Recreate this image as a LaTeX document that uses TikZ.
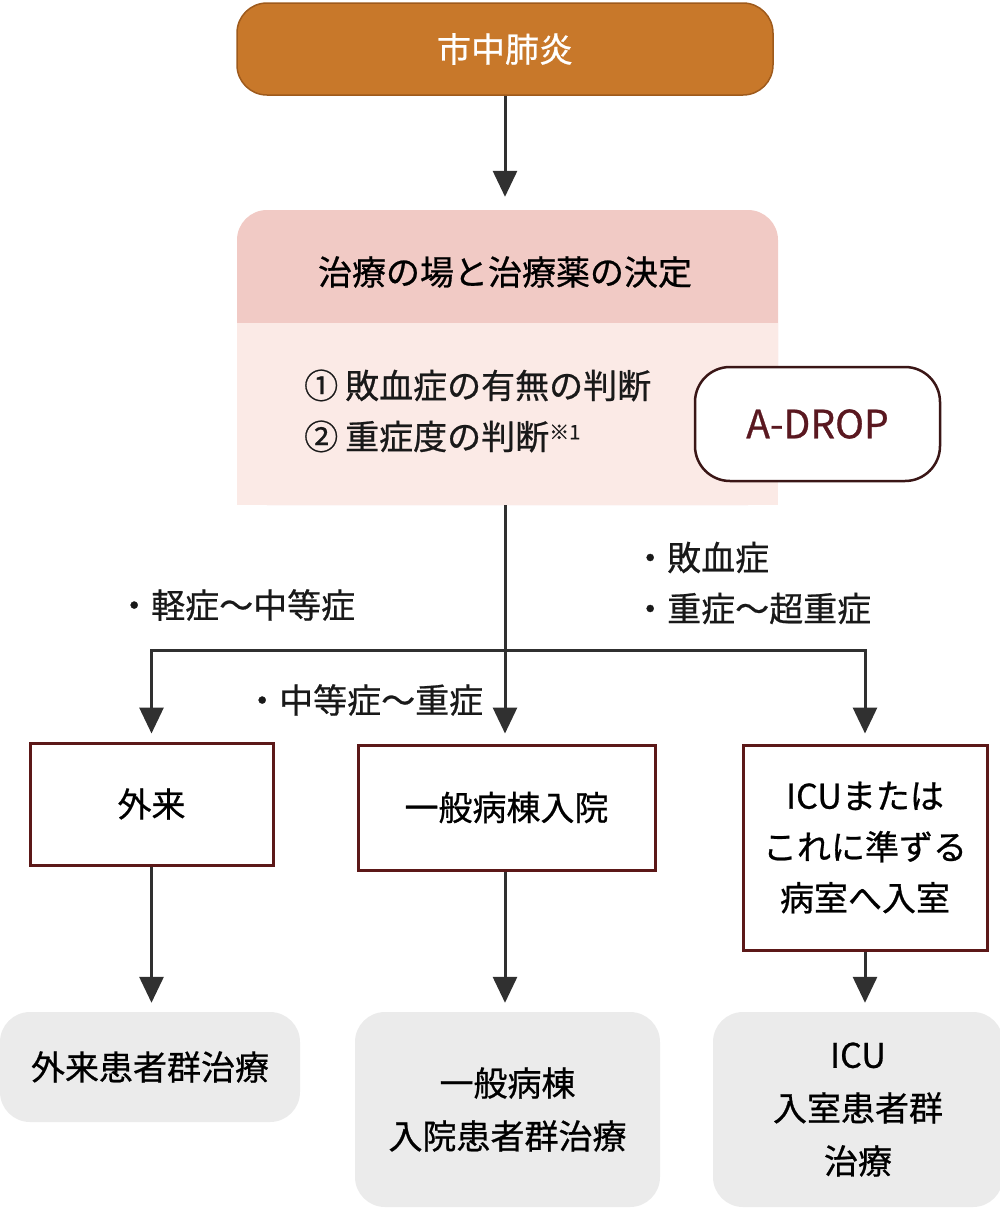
\documentclass[tikz,border=0pt]{standalone}
\usepackage{fontspec}
\setmainfont{Noto Sans CJK JP}[FakeBold=0.7]
\usetikzlibrary{arrows.meta}
\definecolor{capfill}{HTML}{C8782A}
\definecolor{capdraw}{HTML}{9E5A1C}
\definecolor{hdrfill}{HTML}{F1CAC5}
\definecolor{bodyfill}{HTML}{FBEAE6}
\definecolor{boxdraw}{HTML}{5C1818}
\definecolor{adropdraw}{HTML}{3A1616}
\definecolor{adroptext}{HTML}{5A1820}
\definecolor{grayfill}{HTML}{EBEBEB}
\definecolor{arrcol}{HTML}{303030}
\tikzset{
  jp/.style={font=\fontsize{34pt}{51pt}\selectfont},
  capbox/.style={jp, rectangle, rounded corners=30pt, fill=capfill, draw=capdraw, line width=1.5pt, text=white, minimum width=536pt, minimum height=92pt, inner sep=0pt},
  placebox/.style={jp, rectangle, draw=boxdraw, line width=3pt, fill=white, align=center, inner sep=0pt},
  resultbox/.style={jp, rectangle, rounded corners=30pt, fill=grayfill, align=center, inner sep=0pt, font=\fontsize{34pt}{53pt}\selectfont},
  arr/.style={draw=arrcol, line width=3pt, -{Triangle[width=24pt,length=26pt]}},
  lbl/.style={jp, anchor=west, inner sep=0pt, align=left, text=black!90},
}
\begin{document}
\begin{tikzpicture}[x=1pt,y=-1pt]
\useasboundingbox (0,0) rectangle (999,1210);
% top
\node[capbox] (cap) at (505,49) {市中肺炎};
% decision box
\node[rectangle, rounded corners=30pt, fill=hdrfill, minimum width=541pt, minimum height=295pt, inner sep=0pt] (dec) at (507.5,357.5) {};
\fill[bodyfill] (237,323) rectangle (778,505);
\node[jp, inner sep=0pt] (hdr) at (505,272) {治療の場と治療薬の決定};
\node[lbl] (items) at (304,411) {①\hspace{7pt}敗血症の有無の判断\\②\hspace{7pt}重症度の判断{\fontsize{20pt}{20pt}\selectfont\raisebox{10pt}{※1}}};
\node[rectangle, rounded corners=35pt, draw=adropdraw, line width=2.5pt, fill=white, text=adroptext, minimum width=245pt, minimum height=114pt, inner sep=0pt, font=\fontsize{39pt}{45pt}\selectfont] (adrop) at (817.5,424) {A-DROP};
% places
\node[placebox, minimum width=243pt, minimum height=122pt] (gai) at (151.5,804) {外来};
\node[placebox, minimum width=297pt, minimum height=125pt] (ippan) at (506.5,807.5) {一般病棟入院};
\node[placebox, minimum width=244pt, minimum height=205pt] (icu) at (865,847.5) {ICUまたは\\これに準ずる\\病室へ入室};
% results
\node[resultbox, minimum width=300pt, minimum height=110pt] (r1) at (150,1067) {外来患者群治療};
\node[resultbox, minimum width=305pt, minimum height=195pt] (r2) at (507.5,1109.5) {一般病棟\\入院患者群治療};
\node[resultbox, minimum width=290pt, minimum height=195pt] (r3) at (858,1109.5) {ICU\\入室患者群\\治療};
% connectors
\coordinate (br) at (505,650);
\draw[arr, shorten >=13pt] (cap.south) -- (cap.south |- dec.north);
\draw[arr, shorten >=10pt] (br |- dec.south) -- (br |- ippan.north);
\draw[arr, shorten >=8pt] (br) -| (gai.north);
\draw[arr, shorten >=10pt] (br) -| (icu.north);
\draw[arr, shorten >=9pt] (gai.south) -- (gai.south |- r1.north);
\draw[arr, shorten >=9pt] (br |- ippan.south) -- (br |- r2.north);
\draw[arr, shorten >=9pt] (icu.south) -- (icu.south |- r3.north);
% labels
\node[lbl] (l1) at (117,605) {・軽症～中等症};
\node[lbl] (l2) at (633,583) {・敗血症\\・重症～超重症};
\node[lbl] (l3) at (245,700) {・中等症～重症};
\end{tikzpicture}
\end{document}
